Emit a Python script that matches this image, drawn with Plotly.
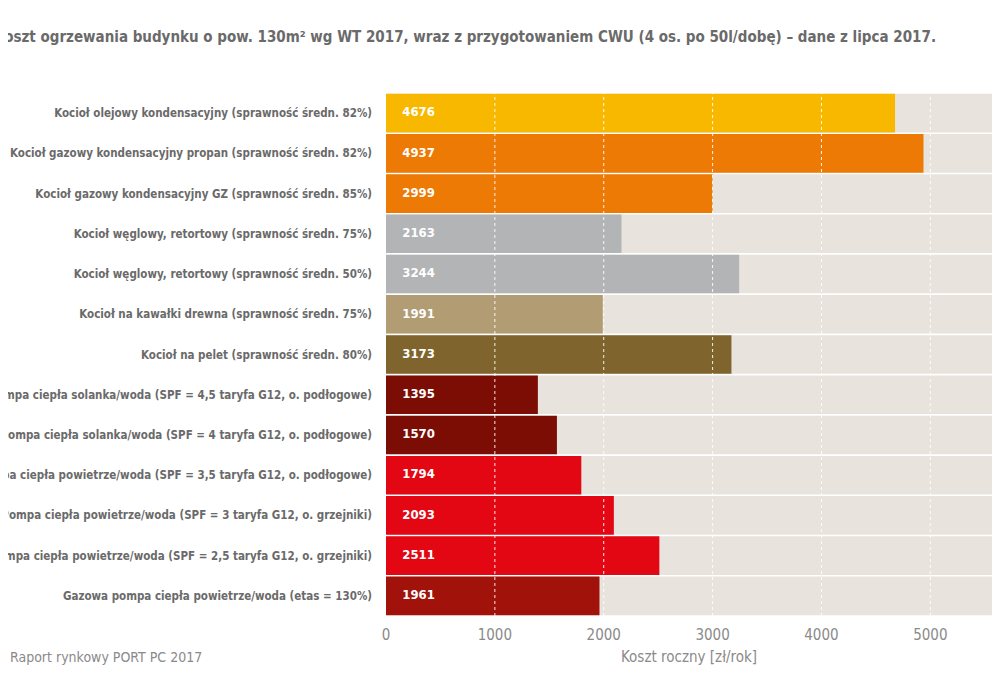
import plotly.graph_objects as go

# data
labels = [
    "Kocioł olejowy kondensacyjny (sprawność średn. 82%)",
    "Kocioł gazowy kondensacyjny propan (sprawność średn. 82%)",
    "Kocioł gazowy kondensacyjny GZ (sprawność średn. 85%)",
    "Kocioł węglowy, retortowy (sprawność średn. 75%)",
    "Kocioł węglowy, retortowy (sprawność średn. 50%)",
    "Kocioł na kawałki drewna (sprawność średn. 75%)",
    "Kocioł na pelet (sprawność średn. 80%)",
    "Pompa ciepła solanka/woda (SPF = 4,5 taryfa G12, o. podłogowe)",
    "Pompa ciepła solanka/woda (SPF = 4 taryfa G12, o. podłogowe)",
    "Pompa ciepła powietrze/woda (SPF = 3,5 taryfa G12, o. podłogowe)",
    "Pompa ciepła powietrze/woda (SPF = 3 taryfa G12, o. grzejniki)",
    "Pompa ciepła powietrze/woda (SPF = 2,5 taryfa G12, o. grzejniki)",
    "Gazowa pompa ciepła powietrze/woda (etas = 130%)",
]
costs = [4676, 4937, 2999, 2163, 3244, 1991, 3173, 1395, 1570, 1794, 2093, 2511, 1961]
bar_colors = [
    "#f9b800", "#ec7a04", "#ec7a04", "#b3b4b6", "#b3b4b6", "#b19c74", "#7f652d",
    "#7b0d04", "#7b0d04", "#e30613", "#e30613", "#e30613", "#a0120a",
]
tick_vals = [0, 1000, 2000, 3000, 4000, 5000]
grid_vals = [1000, 2000, 3000, 4000, 5000]

title = ("Roczny koszt ogrzewania budynku o pow. 130m² wg WT 2017, wraz z przygotowaniem "
         "CWU (4 os. po 50l/dobę) – dane z lipca 2017.")
source = "Raport rynkowy PORT PC 2017"
x_title = "Koszt roczny [zł/rok]"

X_MAX = 5640
LABEL_X = 150
FONT = "DejaVu Sans Condensed, sans-serif"

fig = go.Figure()

# beige row backgrounds
fig.add_trace(go.Bar(
    x=[X_MAX] * len(labels), y=labels, orientation="h",
    marker=dict(color="#e8e3dd", line=dict(width=0)),
    hoverinfo="skip", showlegend=False,
))

fig.add_trace(go.Bar(
    x=costs, y=labels, orientation="h",
    marker=dict(color=bar_colors, line=dict(width=0)),
    showlegend=False,
))

# value labels near the start of each bar
fig.add_trace(go.Scatter(
    x=[LABEL_X] * len(labels), y=labels, mode="text",
    text=[str(v) for v in costs], textposition="middle right",
    textfont=dict(family=FONT, size=13, color="white", weight="bold"),
    hoverinfo="skip", showlegend=False,
))

# dotted white gridlines drawn over the bars
for g in grid_vals:
    fig.add_shape(type="line", x0=g, x1=g, y0=0, y1=1, xref="x", yref="paper",
                  line=dict(color="rgba(255,255,255,0.9)", width=1, dash="dot"),
                  layer="above")

fig.add_annotation(text=title, x=0.899, y=1.107, xref="paper", yref="paper",
                   xanchor="right", yanchor="middle", showarrow=False,
                   font=dict(family=FONT, size=15, color="#6a6a6a", weight="bold"))
fig.add_annotation(text=source, x=-0.6156, y=-0.0784, xref="paper", yref="paper",
                   xanchor="left", yanchor="middle", showarrow=False,
                   font=dict(family=FONT, size=14, color="#8a8a8a"))
fig.add_annotation(text=x_title, x=0.493, y=-0.0784, xref="paper", yref="paper",
                   xanchor="center", yanchor="middle", showarrow=False,
                   font=dict(family=FONT, size=15, color="#8a8a8a"))

# page body keeps an 8px margin, so the figure is sized to fit the window
fig.update_layout(
    width=992, height=684,
    margin=dict(l=378, r=0, t=85, b=76),
    paper_bgcolor="white", plot_bgcolor="white",
    barmode="overlay", bargap=0.04,
    xaxis=dict(range=[0, X_MAX], tickvals=tick_vals, showgrid=False, zeroline=False,
               showline=False, ticks="", ticklabelstandoff=8, automargin=False,
               tickfont=dict(family=FONT, size=15, color="#8a8a8a"), fixedrange=True),
    yaxis=dict(range=[len(labels) - 0.5, -0.5], showgrid=False, zeroline=False,
               showline=False, ticks="", ticklabelstandoff=13, automargin=False,
               tickfont=dict(family=FONT, size=11.5, color="#6a6a6a", weight="bold"),
               fixedrange=True),
)

fig.write_html("out.html")
